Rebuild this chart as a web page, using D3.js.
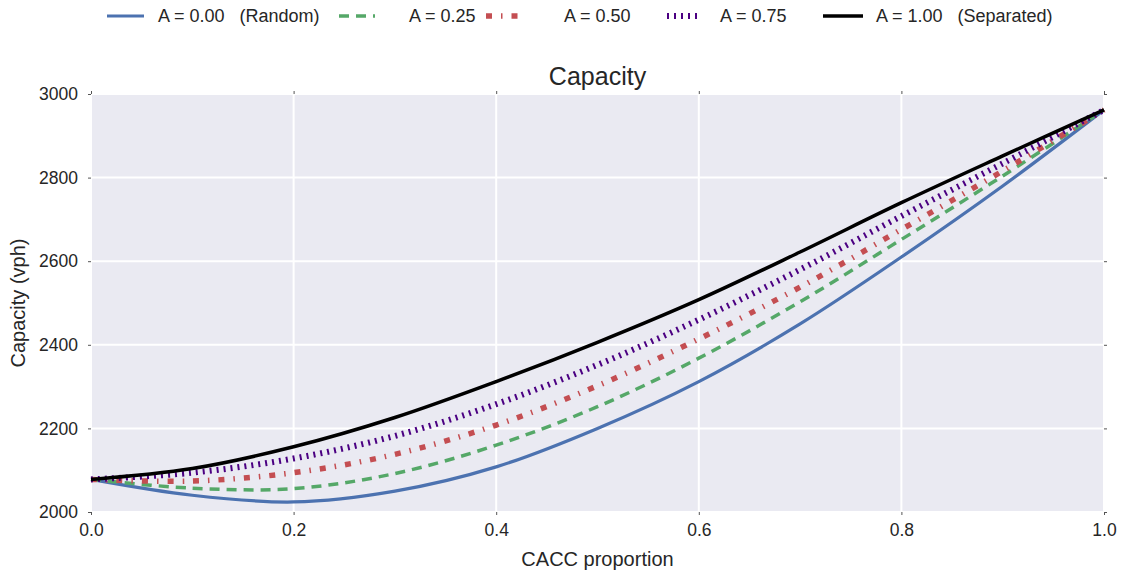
<!DOCTYPE html>
<html><head><meta charset="utf-8">
<script src="https://cdn.jsdelivr.net/npm/d3@7"></script>
<style>
body{margin:0;background:#fff;}
svg{font-family:"Liberation Sans",Arial,sans-serif;}
</style></head>
<body><svg id="c" width="1128" height="573"></svg>
<script>
const xValues = [0, 0.1, 0.2, 0.3, 0.4, 0.5, 0.6, 0.7, 0.8, 0.9, 1.0];
const capA000 = [2078, 2040, 2024, 2050, 2108, 2200, 2312, 2450, 2610, 2780, 2962];
const capA025 = [2078, 2057, 2056, 2092, 2160, 2252, 2368, 2503, 2652, 2804, 2962];
const capA050 = [2078, 2074, 2094, 2138, 2208, 2302, 2414, 2538, 2676, 2816, 2962];
const capA075 = [2078, 2094, 2128, 2182, 2258, 2352, 2460, 2580, 2708, 2834, 2962];
const capA100 = [2078, 2104, 2156, 2226, 2312, 2406, 2508, 2622, 2740, 2852, 2962];
const seriesNames = ["A = 0.00   (Random)", "A = 0.25", "A = 0.50", "A = 0.75", "A = 1.00   (Separated)"];
const xTicks = [0, 0.2, 0.4, 0.6, 0.8, 1.0];
const yTicks = [2000, 2200, 2400, 2600, 2800, 3000];

const styles = [
  {color:"#4C72B0", width:3.2, dash:null},
  {color:"#55A868", width:3.5, dash:"10,7"},
  {color:"#C44E52", width:5.5, dash:"6,9,1.5,9"},
  {color:"#4B0082", width:6, dash:"2,5"},
  {color:"#000000", width:3.5, dash:null}
];
const allSeries = [capA000, capA025, capA050, capA075, capA100];

const svg = d3.select("#c");
const L = 91, R = 1104, T = 94, B = 512;
const x = d3.scaleLinear().domain([0,1]).range([L,R]);
const y = d3.scaleLinear().domain([2000,3000]).range([B,T]);

svg.append("rect").attr("x",L).attr("y",T).attr("width",R-L).attr("height",B-T).attr("fill","#EAEAF2");
const g = svg.append("g");
g.selectAll(".gx").data(xTicks).enter().append("line")
  .attr("x1",d=>x(d)).attr("x2",d=>x(d)).attr("y1",T).attr("y2",B)
  .attr("stroke","#fff").attr("stroke-width",2);
g.selectAll(".gy").data(yTicks).enter().append("line")
  .attr("y1",d=>y(d)).attr("y2",d=>y(d)).attr("x1",L).attr("x2",R)
  .attr("stroke","#fff").attr("stroke-width",2);

const axB = d3.axisBottom(x).tickValues(xTicks).tickFormat(d3.format(".1f")).tickSize(3).tickPadding(9);
const axT = d3.axisTop(x).tickValues(xTicks).tickFormat("").tickSize(3);
const axL = d3.axisLeft(y).tickValues(yTicks).tickFormat(d3.format("d")).tickSize(3).tickPadding(10);
const axR = d3.axisRight(y).tickValues(yTicks).tickFormat("").tickSize(3);
function styleAxis(sel){
  sel.select(".domain").remove();
  sel.selectAll(".tick line").attr("stroke","#555").attr("stroke-width",1);
  sel.selectAll(".tick text").attr("fill","#262626").style("font-size","17.5px").style("font-family","'Liberation Sans',Arial,sans-serif");
}
svg.append("g").attr("transform",`translate(0,${B})`).call(axB).call(styleAxis);
svg.append("g").attr("transform",`translate(0,${T})`).call(axT).call(styleAxis);
svg.append("g").attr("transform",`translate(${L},0)`).call(axL).call(styleAxis);
svg.append("g").attr("transform",`translate(${R},0)`).call(axR).call(styleAxis);

const line = d3.line().x(d=>x(d[0])).y(d=>y(d[1])).curve(d3.curveCatmullRom.alpha(0.5));
svg.append("clipPath").attr("id","clp").append("rect")
  .attr("x",L-4).attr("y",T-4).attr("width",R-L+8).attr("height",B-T+8);
allSeries.forEach((s,i)=>{
  const pts = xValues.map((xv,j)=>[xv,s[j]]);
  svg.append("path").attr("d",line(pts)).attr("fill","none")
    .attr("stroke",styles[i].color).attr("stroke-width",styles[i].width)
    .attr("stroke-dasharray",styles[i].dash).attr("clip-path","url(#clp)");
});

svg.append("text").attr("x",(L+R)/2).attr("y",85).attr("text-anchor","middle")
  .style("font-size","25px").attr("fill","#262626").text("Capacity");
svg.append("text").attr("x",(L+R)/2).attr("y",566).attr("text-anchor","middle")
  .style("font-size","20px").attr("fill","#262626").text("CACC proportion");
svg.append("text").attr("transform",`translate(25,${(T+B)/2}) rotate(-90)`).attr("text-anchor","middle")
  .style("font-size","20px").attr("fill","#262626").text("Capacity (vph)");

const legX = [107, 339, 486, 667, 823];
const legW = [37, 36, 34, 32, 40];
const legTX = [158, 409, 564, 720, 876];
seriesNames.forEach((n,i)=>{
  svg.append("line").attr("x1",legX[i]).attr("x2",legX[i]+legW[i]).attr("y1",16).attr("y2",16)
    .attr("stroke",styles[i].color).attr("stroke-width",styles[i].width)
    .attr("stroke-dasharray",styles[i].dash);
  svg.append("text").attr("x",legTX[i]).attr("y",22).style("font-size","18px")
    .style("white-space","pre").attr("xml:space","preserve").attr("fill","#262626").text(n);
});
</script></body></html>
